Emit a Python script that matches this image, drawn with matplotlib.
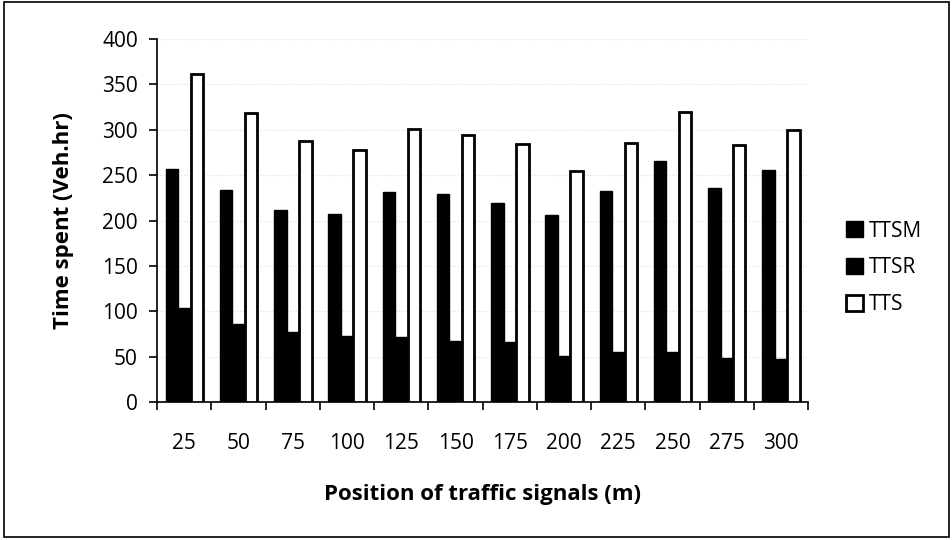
import matplotlib
matplotlib.use("Agg")
import matplotlib.pyplot as plt
from matplotlib.patches import Rectangle
import numpy as np

plt.rcParams['font.family'] = ['Open Sans', 'DejaVu Sans']

# positions of traffic signals (m)
positions = ['25', '50', '75', '100', '125', '150', '175', '200', '225', '250', '275', '300']
ttsm = [257, 234, 212, 207, 231, 229, 219, 206, 233, 266, 236, 256]
ttsr = [104, 86, 77, 73, 72, 67, 66, 51, 55, 55, 49, 47]
tts = [361, 319, 288, 278, 301, 294, 284, 255, 286, 320, 283, 300]

fig = plt.figure(figsize=(9.53, 5.4), dpi=100)
ax = fig.add_axes([0.165, 0.2556, 0.683, 0.672])

x = np.arange(len(positions))
w = 0.23
ax.bar(x - w, ttsm, w, color='black', edgecolor='black', linewidth=1, label='TTSM', zorder=3)
ax.bar(x, ttsr, w, color='black', edgecolor='black', linewidth=1, label='TTSR', zorder=3)
ax.bar(x + w, tts, w, color='white', edgecolor='black', linewidth=2, label='TTS', zorder=3)

ax.set_xlim(-0.5, len(positions) - 0.5)
ax.set_ylim(0, 400)
ax.set_yticks(range(0, 401, 50))
ax.set_xticks(x)
ax.set_xticklabels(positions)
ax.set_xticks(np.arange(-0.5, len(positions), 1), minor=True)
ax.tick_params(axis='x', which='major', length=0, pad=22, labelsize=15)
ax.tick_params(axis='x', which='minor', length=6, direction='out', width=1.2)
ax.tick_params(axis='y', length=6, direction='out', width=1.2, pad=8, labelsize=15)

ax.yaxis.grid(True, color='#dddddd', linewidth=0.8, linestyle=':', zorder=0)
for s in ['top', 'right']:
    ax.spines[s].set_visible(False)
ax.spines['left'].set_linewidth(1.2)
ax.spines['bottom'].set_linewidth(1.2)

ax.set_ylabel('Time spent (Veh.hr)', fontsize=16, fontweight='bold', labelpad=20)
ax.set_xlabel('Position of traffic signals (m)', fontsize=16, fontweight='bold', labelpad=22)

ax.legend(loc='center left', bbox_to_anchor=(1.03, 0.37), frameon=False, fontsize=15,
          handlelength=0.8, handleheight=0.8, handletextpad=0.3, labelspacing=0.75)

fig.add_artist(Rectangle((0.004, 0.006), 0.992, 0.99, transform=fig.transFigure,
                         fill=False, edgecolor='black', linewidth=1.2))

fig.savefig('out.png', dpi=100)
